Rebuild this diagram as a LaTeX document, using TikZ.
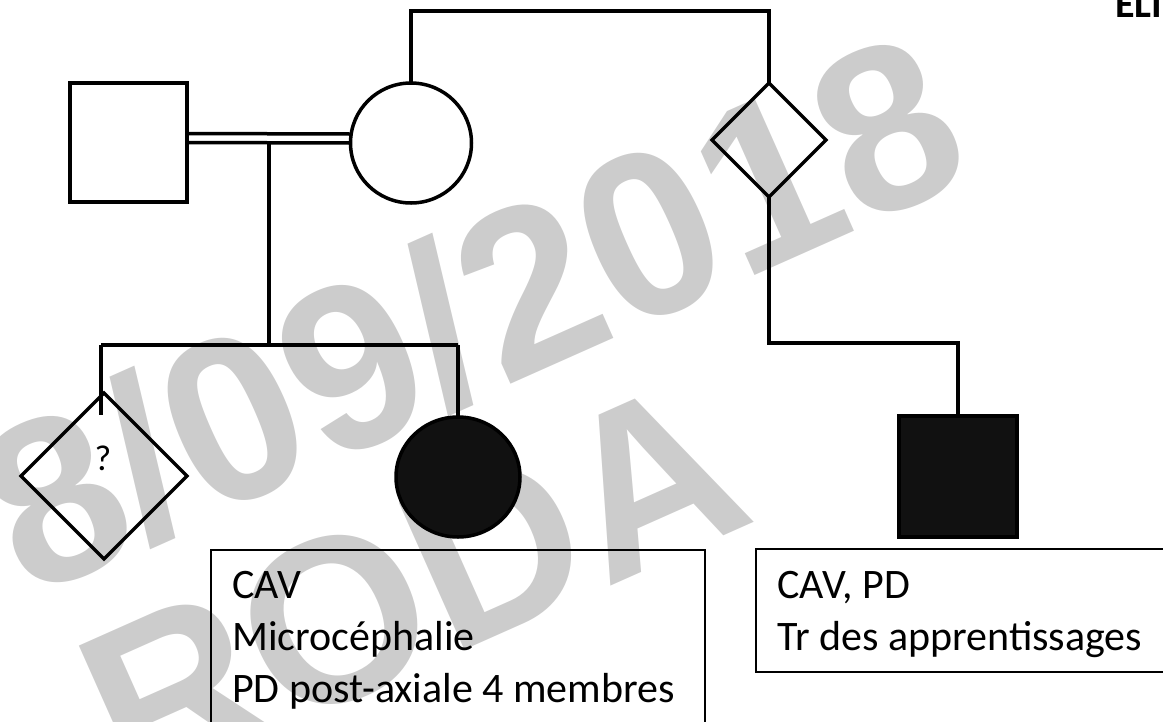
\documentclass[tikz,border=0pt]{standalone}
\usepackage{fontspec}
\setmainfont{Carlito}
\newfontfamily\wmfont{Liberation Sans}
\usetikzlibrary{shapes.geometric}
\definecolor{wmgray}{HTML}{CCCCCC}
\definecolor{affblack}{HTML}{111111}
\begin{document}
\begin{tikzpicture}[x=1pt,y=-1pt,
  ped/.style={line width=3.5pt},
  male/.style={ped, draw, rectangle, minimum width=117pt, minimum height=119pt, inner sep=0pt, outer sep=0pt},
  female/.style={ped, draw, ellipse, minimum width=121pt, minimum height=120pt, inner sep=0pt, outer sep=0pt},
  unk/.style={ped, draw, diamond, inner sep=0pt, outer sep=0pt},
  aff/.style={fill=affblack},
  infobox/.style={draw, line width=1.5pt, inner sep=0pt, outer sep=0pt, anchor=north west},
  lbl/.style={font=\fontsize{42}{52}\selectfont, align=left, anchor=base west, inner sep=0pt},
  wm/.style={text=wmgray, font=\wmfont\bfseries\fontsize{234}{234}\selectfont, inner sep=0pt}
]
\useasboundingbox (0,0) rectangle (1163,721);
\clip (0,0) rectangle (1163,721);
% watermark
\node[wm, rotate=24] (wm1) at (470,312) {8/09/2018};
\node[wm, rotate=24] (wm2) at (412,586) {RODA};
% individuals
\node[male] (fa) at (128.5,142.5) {};
\node[female] (mo) at (411,143) {};
\node[unk, minimum width=114pt, minimum height=114pt] (ud) at (769,140) {};
\node[unk, minimum width=166pt, minimum height=166pt] (c1) at (104,476) {};
\node[font=\fontsize{36}{36}\selectfont, inner sep=0pt] (q) at (103,458) {?};
\node[female, aff, minimum width=124pt] (c2) at (458,477) {};
\node[male, aff, minimum width=118pt, minimum height=121pt] (sq) at (958,476.5) {};
% info boxes
\node[infobox, minimum width=494pt, minimum height=220pt] (box1) at (211,550) {};
\node[lbl] (t1) at (232,702) {CAV\\Microcéphalie\\PD post-axiale 4 membres};
\node[infobox, minimum width=440pt, minimum height=123pt] (box2) at (756,549) {};
\node[lbl] (t2) at (777,650) {CAV, PD\\Tr des apprentissages};
% corner text
\node[font=\bfseries\fontsize{40}{40}\selectfont, anchor=base west, inner sep=0pt] (eli) at (1115,17) {ELI};
% connectors
\coordinate (topy) at (0,11);
\coordinate (m1) at (269,143);
\coordinate (s1) at (269,345);
\coordinate (sl) at (101,345);
\coordinate (sr) at (458,345);
\coordinate (c1in) at (101,415);
\coordinate (b2) at (958,343);
\draw[ped] ([yshift=9pt]fa.east) -- ([yshift=9pt]mo.west);
\draw[ped] (fa.east) -- (mo.west);
\draw[ped] (m1) -- (s1);
\draw[ped] (sl) -- (sr);
\draw[ped] (sl) -- (c1in);
\draw[ped] (sr) -- (c2.north);
\draw[ped] (mo.north) -- (mo.north |- topy) -| (ud.north);
\draw[ped] (ud.south) |- (b2) -- (sq.north);
\end{tikzpicture}
\end{document}
